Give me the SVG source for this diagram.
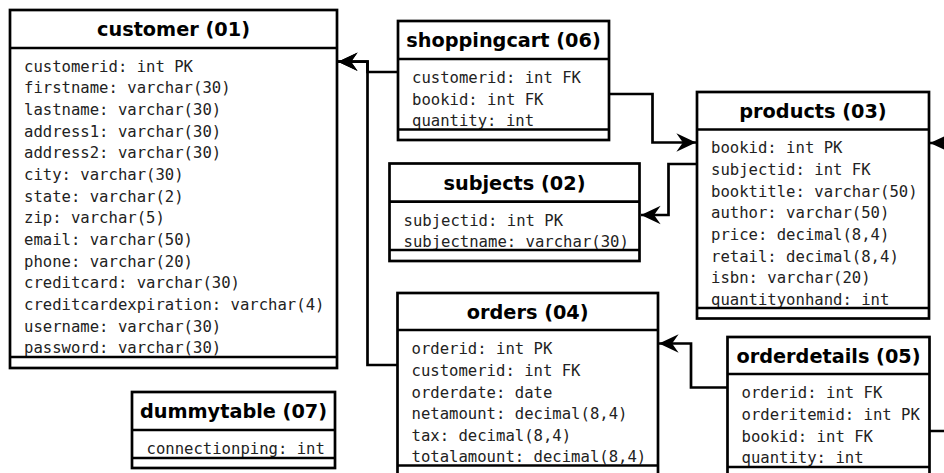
<svg xmlns="http://www.w3.org/2000/svg" width="944" height="473" viewBox="0 0 944 473">
<style>
.box{fill:#fff;stroke:#000;stroke-width:2.7}
.ln{stroke:#000;stroke-width:2.7;fill:none}
.t{font-family:"DejaVu Sans","Liberation Sans",sans-serif;font-weight:bold;font-size:19.3px;fill:#000;text-anchor:middle}
.f{font-family:"DejaVu Sans Mono","Liberation Mono",monospace;font-size:15.6px;fill:#222}
.c{stroke:#000;stroke-width:2.7;fill:none;marker-end:url(#ar)}
</style>
<defs>
<marker id="ar" markerUnits="userSpaceOnUse" markerWidth="24" markerHeight="24" viewBox="-20 -10 22 20" refX="0" refY="0" orient="auto">
<path d="M0,0 L-18,-8.5 L-12,0 L-18,8.5 Z" fill="#000"/>
</marker>
</defs>
<g id="connectors">
<path class="c" d="M398,72 H367.5 V61.7 H338"/>
<path class="c" d="M397.5,365 H367.5 V61.7 H338"/>
<path class="c" d="M609,94 H652.5 V142.5 H696"/>
<path class="c" d="M697,164 H668.5 V215 H641"/>
<path class="c" d="M727.5,387.5 H691 V343.5 H659"/>
<path class="c" d="M929,431 H960 V143 H930"/>
</g>
<g id="customer">
<rect class="box" x="10" y="10" width="327" height="358"/>
<line class="ln" x1="10" y1="48" x2="337" y2="48"/>
<text class="t" x="173.5" y="36">customer (01)</text>
<text class="f" x="24" y="71.7">customerid: int PK</text>
<text class="f" x="24" y="93.4">firstname: varchar(30)</text>
<text class="f" x="24" y="115">lastname: varchar(30)</text>
<text class="f" x="24" y="136.7">address1: varchar(30)</text>
<text class="f" x="24" y="158.4">address2: varchar(30)</text>
<text class="f" x="24" y="180">city: varchar(30)</text>
<text class="f" x="24" y="201.7">state: varchar(2)</text>
<text class="f" x="24" y="223.4">zip: varchar(5)</text>
<text class="f" x="24" y="245">email: varchar(50)</text>
<text class="f" x="24" y="266.7">phone: varchar(20)</text>
<text class="f" x="24" y="288.4">creditcard: varchar(30)</text>
<text class="f" x="24" y="310">creditcardexpiration: varchar(4)</text>
<text class="f" x="24" y="331.7">username: varchar(30)</text>
<text class="f" x="24" y="353.4">password: varchar(30)</text>
<line class="ln" x1="10" y1="357" x2="337" y2="357"/>
</g>
<g id="shoppingcart">
<rect class="box" x="398" y="21" width="211" height="119"/>
<line class="ln" x1="398" y1="59" x2="609" y2="59"/>
<text class="t" x="503.5" y="47">shoppingcart (06)</text>
<text class="f" x="412" y="83">customerid: int FK</text>
<text class="f" x="412" y="104.6">bookid: int FK</text>
<text class="f" x="412" y="126.2">quantity: int</text>
<line class="ln" x1="398" y1="129.5" x2="609" y2="129.5"/>
</g>
<g id="products">
<rect class="box" x="697" y="92" width="232" height="226.5"/>
<line class="ln" x1="697" y1="129.5" x2="929" y2="129.5"/>
<text class="t" x="813" y="118">products (03)</text>
<text class="f" x="711" y="153.3">bookid: int PK</text>
<text class="f" x="711" y="175">subjectid: int FK</text>
<text class="f" x="711" y="196.6">booktitle: varchar(50)</text>
<text class="f" x="711" y="218.3">author: varchar(50)</text>
<text class="f" x="711" y="239.9">price: decimal(8,4)</text>
<text class="f" x="711" y="261.6">retail: decimal(8,4)</text>
<text class="f" x="711" y="283.2">isbn: varchar(20)</text>
<text class="f" x="711" y="304.8">quantityonhand: int</text>
<line class="ln" x1="697" y1="308" x2="929" y2="308"/>
</g>
<g id="subjects">
<rect class="box" x="389.5" y="163.5" width="250" height="97.5"/>
<line class="ln" x1="389.5" y1="201.7" x2="639.5" y2="201.7"/>
<text class="t" x="514.5" y="190">subjects (02)</text>
<text class="f" x="403.5" y="226">subjectid: int PK</text>
<text class="f" x="403.5" y="247.3">subjectname: varchar(30)</text>
<line class="ln" x1="389.5" y1="250" x2="639.5" y2="250"/>
</g>
<g id="orders">
<rect class="box" x="397.5" y="293" width="260.5" height="183"/>
<line class="ln" x1="397.5" y1="330" x2="658" y2="330"/>
<text class="t" x="527.7" y="319">orders (04)</text>
<text class="f" x="411.5" y="354.3">orderid: int PK</text>
<text class="f" x="411.5" y="375.9">customerid: int FK</text>
<text class="f" x="411.5" y="397.5">orderdate: date</text>
<text class="f" x="411.5" y="419.1">netamount: decimal(8,4)</text>
<text class="f" x="411.5" y="440.7">tax: decimal(8,4)</text>
<text class="f" x="411.5" y="462.3">totalamount: decimal(8,4)</text>
<line class="ln" x1="397.5" y1="465.5" x2="658" y2="465.5"/>
</g>
<g id="orderdetails">
<rect class="box" x="727.5" y="337" width="202" height="141"/>
<line class="ln" x1="727.5" y1="374" x2="929.5" y2="374"/>
<text class="t" x="828.5" y="363">orderdetails (05)</text>
<text class="f" x="741.5" y="398.3">orderid: int FK</text>
<text class="f" x="741.5" y="419.9">orderitemid: int PK</text>
<text class="f" x="741.5" y="441.5">bookid: int FK</text>
<text class="f" x="741.5" y="463.1">quantity: int</text>
<line class="ln" x1="727.5" y1="467" x2="929.5" y2="467"/>
</g>
<g id="dummytable">
<rect class="box" x="132" y="392" width="203" height="76"/>
<line class="ln" x1="132" y1="430" x2="335" y2="430"/>
<text class="t" x="233.5" y="418">dummytable (07)</text>
<text class="f" x="146.5" y="453.5">connectionping: int</text>
<line class="ln" x1="132" y1="458" x2="335" y2="458"/>
</g>
</svg>
